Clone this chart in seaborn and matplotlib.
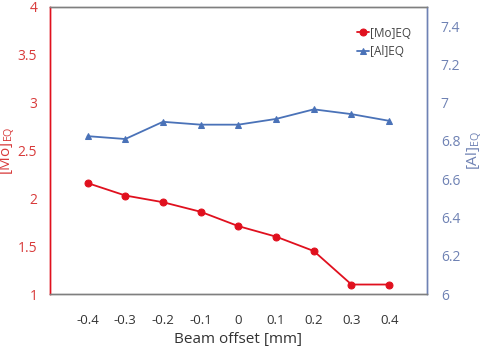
import matplotlib
matplotlib.use("Agg")
import matplotlib.pyplot as plt
import seaborn as sns
import pandas as pd

# Beam offset positions and the two equivalence indices
offset = [-0.4, -0.3, -0.2, -0.1, 0.0, 0.1, 0.2, 0.3, 0.4]
mo_eq = [2.16, 2.03, 1.96, 1.86, 1.71, 1.60, 1.45, 1.10, 1.10]
al_eq = [6.825, 6.81, 6.90, 6.885, 6.885, 6.915, 6.965, 6.94, 6.905]
x_ticks = [-0.4, -0.3, -0.2, -0.1, 0, 0.1, 0.2, 0.3, 0.4]
x_tick_labels = ["-0.4", "-0.3", "-0.2", "-0.1", "0", "0.1", "0.2", "0.3", "0.4"]
left_ticks = [1, 1.5, 2, 2.5, 3, 3.5, 4]
left_tick_labels = ["1", "1.5", "2", "2.5", "3", "3.5", "4"]
right_ticks = [6, 6.2, 6.4, 6.6, 6.8, 7, 7.2, 7.4]
right_tick_labels = ["6", "6.2", "6.4", "6.6", "6.8", "7", "7.2", "7.4"]

df = pd.DataFrame({"offset": offset, "mo": mo_eq, "al": al_eq})

sns.set_theme(style="white")
plt.rcParams["font.family"] = ["Open Sans", "DejaVu Sans"]

RED = "#e0101e"
RED_TXT = "#d83a3a"
BLUE = "#4a72b8"
BLUE_TXT = "#6f82b4"
GREY = "#7f7f7f"

fig = plt.figure(figsize=(4.84, 3.46), dpi=100)
ax = fig.add_axes([0.103, 0.150, 0.779, 0.830])
ax2 = ax.twinx()

sns.lineplot(data=df, x="offset", y="mo", ax=ax, color=RED, marker="o",
             markersize=5, markeredgecolor=RED, linewidth=1.3, label="[Mo]EQ",
             legend=False)
sns.lineplot(data=df, x="offset", y="al", ax=ax2, color=BLUE, marker="^",
             markersize=4.5, markeredgecolor=BLUE, linewidth=1.3, label="[Al]EQ",
             legend=False)

ax.set_xlim(-0.5, 0.5)
ax.set_ylim(1, 4)
ax2.set_ylim(6, 7.5)

ax.set_xticks(x_ticks)
ax.set_xticklabels(x_tick_labels, fontsize=9.5, color="#333333")
ax.set_yticks(left_ticks)
ax.set_yticklabels(left_tick_labels, fontsize=10, color=RED_TXT)
ax2.set_yticks(right_ticks)
ax2.set_yticklabels(right_tick_labels, fontsize=10, color=BLUE_TXT)

ax.tick_params(axis="x", direction="out", length=4, width=0.8, color=GREY, pad=10)
ax.tick_params(axis="y", length=0, pad=9)
ax2.tick_params(axis="y", length=0, pad=10)

ax.set_xlabel("Beam offset [mm]", fontsize=11, color="#333333", labelpad=4)
ax.set_ylabel("[Mo]$_{\\mathregular{EQ}}$", fontsize=11, color=RED_TXT)
ax2.set_ylabel("[Al]$_{\\mathregular{EQ}}$", fontsize=11, color=BLUE_TXT)
ax.yaxis.set_label_coords(-0.086, 0.5)
ax2.yaxis.set_label_coords(1.099, 0.5)

for a in (ax, ax2):
    for s in a.spines.values():
        s.set_linewidth(1.0)
        s.set_color(GREY)
ax.spines["left"].set_color(RED)
ax2.spines["left"].set_color(RED)
ax2.spines["right"].set_color(BLUE_TXT)
ax.spines["right"].set_color(BLUE_TXT)

h1, l1 = ax.get_legend_handles_labels()
h2, l2 = ax2.get_legend_handles_labels()
leg = ax2.legend(h1 + h2, l1 + l2, loc="upper right", bbox_to_anchor=(0.971, 0.948),
                 borderaxespad=0, frameon=False, fontsize=8.5, handlelength=1.0,
                 labelspacing=0.5, handletextpad=0.1)
for t in leg.get_texts():
    t.set_color("#444444")

fig.savefig("out.png", dpi=100)
